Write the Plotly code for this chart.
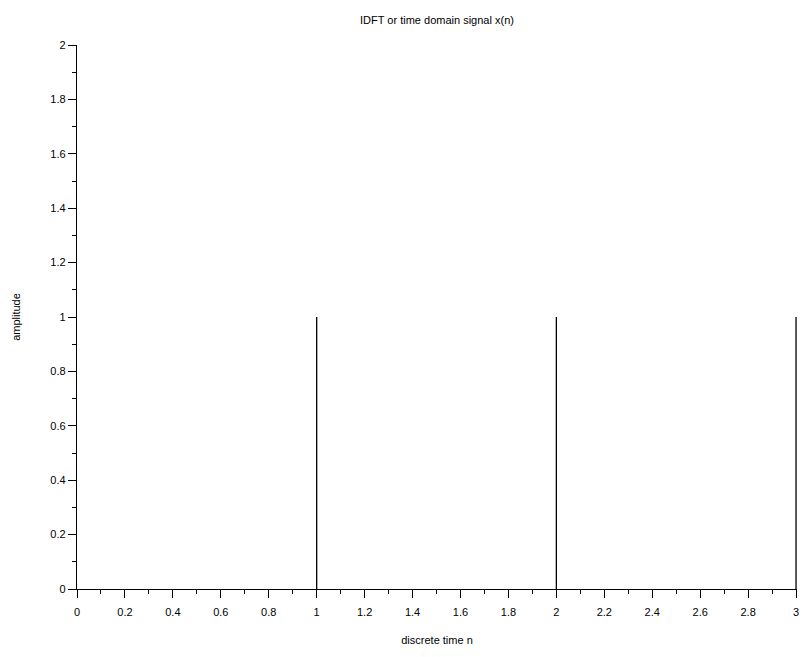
import plotly.graph_objects as go

n = [0, 1, 2, 3]
x_n = [0, 1, 1, 1]

xs, ys = [], []
for a, b in zip(n, x_n):
    xs += [a, a, None]
    ys += [0, b, None]

fig = go.Figure()
fig.add_trace(go.Scatter(x=xs, y=ys, mode="lines", line=dict(color="black", width=1.3),
                         showlegend=False, hoverinfo="skip", cliponaxis=False))

font = "Liberation Sans, Arial, sans-serif"
axis_common = dict(showline=True, linecolor="black", linewidth=1.3, ticks="outside",
                   ticklen=8, tickwidth=1.3, tickcolor="black", showgrid=False, zeroline=False,
                   automargin=False,
                   tickfont=dict(family=font, size=11, color="black"))
fig.update_xaxes(range=[0, 3.004], dtick=0.2, tick0=0, tickformat="~g", ticklabelstandoff=5,
                 minor=dict(dtick=0.1, ticklen=4, ticks="outside", tickcolor="black", tickwidth=1.3),
                 title=dict(text="discrete time n", font=dict(family=font, size=11, color="black"), standoff=18),
                 **axis_common)
fig.update_yaxes(range=[0, 2], dtick=0.2, tick0=0, tickformat="~g",
                 minor=dict(dtick=0.1, ticklen=4, ticks="outside", tickcolor="black", tickwidth=1.3),
                 title=dict(text="amplitude", font=dict(family=font, size=11, color="black"), standoff=27),
                 **axis_common)
W, H = 803, 657
fig.update_layout(
    width=W, height=H,
    margin=dict(l=77, r=6, t=45, b=68, autoexpand=False),
    plot_bgcolor="white", paper_bgcolor="white",
    title=dict(text="IDFT or time domain signal x(n)", x=0.5, xanchor="center", xref="paper",
               y=1 - 20 / H, yanchor="middle",
               font=dict(family=font, size=11, color="black")),
)
fig.write_html("out.html", config={"displayModeBar": False},
               post_script="document.body.style.margin='0';document.body.style.overflow='hidden';")
